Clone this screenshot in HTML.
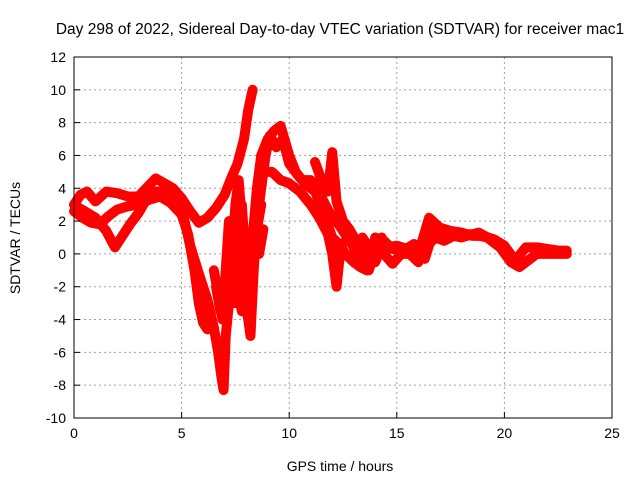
<!DOCTYPE html>
<html><head><meta charset="utf-8"><style>
html,body{margin:0;padding:0;background:#fff;}
svg{display:block;font-family:"Liberation Sans",sans-serif;}
</style></head><body>
<svg id="chart" width="640" height="480">
<rect x="0" y="0" width="640" height="480" fill="#fff"/>
<text x="340" y="34" font-size="15.5" text-anchor="middle" fill="#000">Day 298 of 2022, Sidereal Day-to-day VTEC variation (SDTVAR) for receiver mac1</text>
<g id="grid"></g>
<g id="series"></g>
<rect x="74" y="57" width="538" height="361" fill="none" stroke="#000" stroke-width="1"/>
<g id="axes"></g>
<text x="340" y="471" font-size="14" text-anchor="middle">GPS time / hours</text>
<text transform="translate(20,238) rotate(-90)" font-size="14" text-anchor="middle">SDTVAR / TECUs</text>
</svg>
<script>
const xTicks=[0,5,10,15,20,25];
const yTicks=[-10,-8,-6,-4,-2,0,2,4,6,8,10,12];
const tA=[0,0.3,0.6,1,1.5,2,2.5,3,3.5,3.8,4.2,4.6,5,5.4,5.8,6.2,6.6,7,7.3,7.6,7.9,8.1,8.3];
const vA=[3,3.6,3.8,3.2,3.8,3.7,3.5,3.5,4.2,4.6,4.3,4,3.4,2.6,1.9,2.2,2.8,3.6,4.6,5.5,7,8.8,10];
const tB=[0,0.4,0.8,1.2,1.6,2,2.5,3,3.5,4,4.5,5,5.3,5.6,5.8,6,6.2];
const vB=[2.6,2.2,1.9,1.8,2.3,2.7,2.9,3,3.3,3.5,3.1,2.4,1.2,-1,-3,-4.2,-4.6];
const tC=[0.1,0.5,1,1.5,1.9,2.2,2.6,3,3.4,3.8,4.3,4.8,5.1,5.4,5.8,6.2,6.5,6.7,6.85,6.95,7.05,7.2];
const vC=[2.9,2.6,2.2,1.4,0.4,1,1.8,2.5,3.4,3.8,3.8,3.3,2.2,0.5,-1.2,-2.8,-4.5,-6,-7.5,-8.3,-5,-3];
const tD=[6.6,6.8,7,7.1,7.2,7.35,7.5,7.6,7.7,7.8,7.9,8,8.1,8.2,8.35,8.5];
const vD=[-2,-3.5,-2,0,2,-1,-3,-1,1,3,1,-2,-4,-5,-1,2];
const tD2=[6.5,6.7,6.9,7.1,7.3,7.4,7.5,7.65,7.8,7.95,8.1,8.3,8.5,8.7];
const vD2=[-1,-2.5,-4,-3,-1,1,3,4.5,2,-3,-4,0,1.5,3];
const tD3=[6.8,7,7.2,7.4,7.6,7.8,8,8.2,8.4,8.6,8.8];
const vD3=[-3,-4,-2.5,0,-2,-3.5,-2,0,1,0,1.5];
const tE=[8.3,8.5,8.7,9,9.3,9.6,10,10.3,10.6,11,11.3,11.6,12,12.3,12.6,13,13.4,13.8,14.2,14.6,15,15.5,16,16.5,17,17.5,18,18.5,19,19.5,20,20.5,21,21.5,22,22.5,22.9];
const vE=[1,4,6,7,7.5,7.8,6,5,4.5,4.5,4,3.2,2.2,1.8,1.2,0.5,1,0.2,0.8,0.4,0.5,0.3,0,2.2,1.6,1.4,1.3,1.1,1.1,0.9,0.5,-0.4,0.4,0.4,0.3,0.2,0.2];
const tF=[8.5,8.8,9.2,9.6,10,10.5,11,11.4,11.8,12,12.2,12.4,12.6,13,13.3,13.6,14,14.4,14.8,15.2,15.6,16,16.4,16.8,17.2,17.8,18.5,19.2,19.8,20.3,20.7,21.1,21.5,22,22.5,22.9];
const vF=[4,5,5,4.5,4.3,3.8,3,2.2,1.2,0,-2,0.5,0,-0.5,-0.8,-1,1,0,-0.6,0,0,-0.5,0.5,1,0.8,1.2,1.2,1,0.4,-0.5,-0.8,-0.4,0,0,0,0];
const tF2=[8.6,8.9,9.1,9.4,9.7,10,10.4,10.8,11.2,11.6,12,12.4,12.8,13.2,13.6,14,14.4,14.8,15.3,15.8,16.3,16.8,17.3,18,18.8,19.5,20.2,20.6];
const vF2=[3,6,7.2,6.5,7,5.5,4.8,4.2,3.8,2.5,1,0.5,1,-0.3,0.5,-0.5,0.8,0.3,0.2,0.6,-0.3,1.8,1.2,1,1.3,0.8,0,-0.6];
const tG=[11.2,11.5,11.8,12,12.2,12.5,12.8,13.1,13.4,13.7,14,14.3];
const vG=[5.6,4.5,3.8,6.2,3.2,2,1.5,0.8,-0.5,-1,0.2,1];
const tracks=[[tA,vA],[tB,vB],[tC,vC],[tD,vD],[tD2,vD2],[tD3,vD3],[tE,vE],[tF,vF],[tF2,vF2],[tG,vG]];
const X0=74,X1=612,Y0=57,Y1=418;
const xs=t=>X0+(t-0)/25*(X1-X0);
const ys=v=>Y1-(v+10)/22*(Y1-Y0);
const NS="http://www.w3.org/2000/svg";
const grid=document.getElementById('grid'),axes=document.getElementById('axes'),ser=document.getElementById('series');
function mk(tag,attrs,parent){const e=document.createElementNS(NS,tag);for(const k in attrs)e.setAttribute(k,attrs[k]);parent.appendChild(e);return e;}
xTicks.forEach(t=>{
  const x=xs(t);
  if(t>0&&t<25){const g=mk('line',{x1:x,x2:x,y1:Y0,y2:Y1,stroke:'#a0a0a0','stroke-dasharray':'2,3'},grid);
  
  }
  const tk=mk('line',{x1:x,x2:x,y1:Y1,y2:Y1-6,stroke:'#000'},axes);
  
  
  const lb=mk('text',{x:x,y:Y1+20,'font-size':14,'text-anchor':'middle'},axes);lb.textContent=t;
  
  
});
yTicks.forEach(v=>{
  const y=ys(v);
  if(v>-10&&v<12){const g=mk('line',{x1:X0,x2:X1,y1:y,y2:y,stroke:'#a0a0a0','stroke-dasharray':'2,3'},grid);
  
  }
  const tk=mk('line',{x1:X0,x2:X0+6,y1:y,y2:y,stroke:'#000'},axes);
  
  
  const lb=mk('text',{x:X0-8,y:y+5,'font-size':14,'text-anchor':'end'},axes);lb.textContent=v;
  
  
});
tracks.forEach(([T,V],i)=>{
  const pts=T.map((t,j)=>xs(t)+','+ys(V[j])).join(' ');
  const pl=mk('polyline',{points:pts,fill:'none',stroke:'#ff0000','stroke-width':10,'stroke-linejoin':'round','stroke-linecap':'round'},ser);
  
  
  T.forEach((t,j)=>{
    const x=xs(t),y=ys(V[j]);
    const p=mk('path',{d:`M${x-4},${y}H${x+4}M${x},${y-4}V${y+4}`,stroke:'#ff0000','stroke-width':1.2},ser);
    
    
  });
});
</script>
</body></html>
